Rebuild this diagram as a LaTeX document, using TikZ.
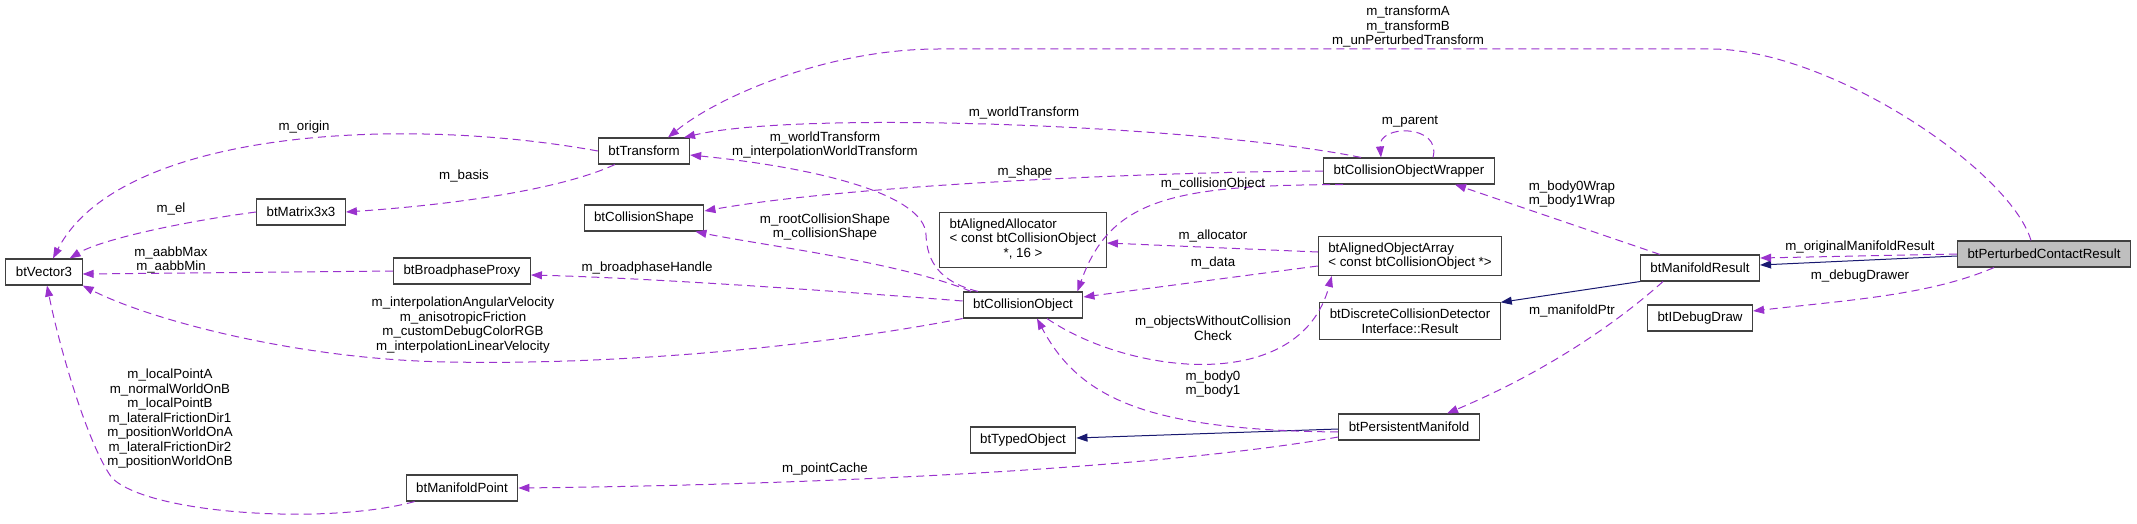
\documentclass[tikz,border=0pt]{standalone}
\usepackage{fontspec}
\setmainfont{Liberation Sans}
\usepackage{xcolor}
\usetikzlibrary{arrows.meta}

\definecolor{dmember}{HTML}{9A32CD}
\definecolor{dinherit}{HTML}{191970}

\begin{document}
\begin{tikzpicture}[
  x=1pt, y=-1pt,
  cls/.style={draw=black!75, line width=1.1pt, fill=white, inner xsep=10pt,
    inner ysep=6pt, minimum height=26pt, font=\fontsize{13.3}{14.5}\selectfont},
  lbl/.style={inner sep=0pt, align=center, font=\fontsize{13.3}{14.5}\selectfont},
  member/.style={draw=dmember, line width=1pt, dash pattern=on 8pt off 5pt,
    -{Triangle[length=11pt,width=8pt]}},
  inherit/.style={draw=dinherit, line width=1pt, -{Triangle[length=11pt,width=8pt]}}
]
  \useasboundingbox (0,0) rectangle (2137,524);

  % classes
  \node[cls] (vec) at (44,272) {btVector3};
  \node[cls] (trans) at (644,151) {btTransform};
  \node[cls] (mat) at (301,212) {btMatrix3x3};
  \node[cls] (shape) at (644,218) {btCollisionShape};
  \node[cls] (proxy) at (462,271) {btBroadphaseProxy};
  \node[cls] (mpoint) at (462,488) {btManifoldPoint};
  \node[cls] (colobj) at (1023,305) {btCollisionObject};
  \node[cls] (alloc) at (1023,240) {\begin{tabular}{@{}l@{}}btAlignedAllocator\\< const btCollisionObject\\\multicolumn{1}{@{}c@{}}{*, 16 >}\end{tabular}};
  \node[cls] (typed) at (1023,440) {btTypedObject};
  \node[cls] (wrapper) at (1409,171) {btCollisionObjectWrapper};
  \node[cls, align=left] (aoa) at (1410,256) {btAlignedObjectArray\\< const btCollisionObject *>};
  \node[cls, align=center] (dcdi) at (1410,321) {btDiscreteCollisionDetector\\Interface::Result};
  \node[cls] (pman) at (1409,427) {btPersistentManifold};
  \node[cls] (mres) at (1700,268) {btManifoldResult};
  \node[cls] (debug) at (1700,318) {btIDebugDraw};
  \node[cls, fill=black!25] (pcr) at (2044,254) {btPerturbedContactResult};

  % btPerturbedContactResult
  \draw[member] ([xshift=-13pt]pcr.north) .. controls (2010,170) and (1830,49) .. (1711,49)
    -- (938,49) .. controls (830,49) and (720,95) .. ([xshift=24pt]trans.north);
  \node[lbl] (lTrans) at (1408,27) {m\_transformA\\m\_transformB\\m\_unPerturbedTransform};
  \draw[inherit] ([yshift=-2pt]pcr.west) -- ([yshift=3pt]mres.east);
  \draw[member] (pcr.west) -- ([yshift=10pt]mres.east);
  \node[lbl] (lOrig) at (1860,247) {m\_originalManifoldResult};
  \draw[member] ([xshift=-50pt]pcr.south) .. controls (1930,295) and (1850,300) .. ([yshift=7pt]debug.east);
  \node[lbl] (lDebug) at (1860,276) {m\_debugDrawer};

  % btManifoldResult
  \draw[member] ([xshift=20pt]mres.north west) -- ([xshift=46pt]wrapper.south);
  \node[lbl] (lWrap) at (1572,194) {m\_body0Wrap\\m\_body1Wrap};
  \draw[inherit] (mres.south west) -- (dcdi.north east);
  \draw[member] ([xshift=-37pt]mres.south) .. controls (1620,320) and (1550,370) .. ([xshift=38pt]pman.north);
  \node[lbl] (lManPtr) at (1572,311) {m\_manifoldPtr};

  % btCollisionObjectWrapper
  \draw[member] ([xshift=-48pt]wrapper.north) .. controls (1200,125) and (800,110) .. ([xshift=40pt]trans.north);
  \node[lbl] (lWorld) at (1024,113) {m\_worldTransform};
  \draw[member] (wrapper.west) .. controls (1150,172) and (850,185) .. ([yshift=7pt]shape.east);
  \node[lbl] (lShape) at (1025,172) {m\_shape};
  \draw[member] ([xshift=-66pt]wrapper.south) .. controls (1170,185) and (1110,200) .. ([xshift=-6pt]colobj.north east);
  \node[lbl] (lColObj) at (1213,184) {m\_collisionObject};
  \draw[member] ([xshift=24pt]wrapper.north) .. controls (1442,124) and (1378,124) .. ([xshift=-28pt]wrapper.north);
  \node[lbl] (lParent) at (1410,122) {m\_parent};

  % btAlignedObjectArray
  \draw[member] ([yshift=4pt]aoa.west) -- ([yshift=-3pt]alloc.east);
  \node[lbl] (lAlloc) at (1213,236) {m\_allocator};
  \draw[member] ([yshift=-10pt]aoa.west) -- ([yshift=8pt]colobj.east);
  \node[lbl] (lData) at (1213,263) {m\_data};

  % btPersistentManifold
  \draw[inherit] ([yshift=-2pt]pman.west) -- ([yshift=2pt]typed.east);
  \draw[member] ([yshift=-10pt]pman.west) .. controls (1150,470) and (800,485) .. (mpoint.east);
  \node[lbl] (lCache) at (825,469) {m\_pointCache};
  \draw[member] ([yshift=-5pt]pman.west) .. controls (1150,430) and (1080,400) .. ([xshift=14pt]colobj.south);
  \node[lbl] (lBody) at (1213,384) {m\_body0\\m\_body1};

  % btCollisionObject
  \draw[member] ([xshift=-45pt]colobj.north) .. controls (940,282) and (927,262) .. (926,235)
    .. controls (925,195) and (820,168) .. ([yshift=-4pt]trans.east);
  \node[lbl] (lObjWorld) at (825,145) {m\_worldTransform\\m\_interpolationWorldTransform};
  \draw[member] ([xshift=-52pt]colobj.north) .. controls (900,262) and (760,245) .. ([xshift=-9pt]shape.south east);
  \node[lbl] (lRootShape) at (825,227) {m\_rootCollisionShape\\m\_collisionShape};
  \draw[member] ([yshift=4pt]colobj.west) .. controls (850,292) and (650,278) .. ([yshift=-4pt]proxy.east);
  \node[lbl] (lBroad) at (647,268) {m\_broadphaseHandle};
  \draw[member] (colobj.south west) .. controls (800,350) and (600,365) .. (450,362)
    .. controls (300,360) and (150,320) .. (vec.south east);
  \node[lbl] (lInterp) at (463,325) {m\_interpolationAngularVelocity\\m\_anisotropicFriction\\m\_customDebugColorRGB\\m\_interpolationLinearVelocity};
  \draw[member] ([xshift=24pt]colobj.south) .. controls (1130,375) and (1300,395) .. ([xshift=14pt]aoa.south west);
  \node[lbl] (lWithout) at (1213,328) {m\_objectsWithoutCollision\\Check};

  % btTransform, btMatrix3x3, btBroadphaseProxy, btManifoldPoint
  \draw[member] ([xshift=17pt]trans.south west) .. controls (560,190) and (450,205) .. (mat.east);
  \node[lbl] (lBasis) at (464,176) {m\_basis};
  \draw[member] (trans.west) .. controls (400,115) and (120,130) .. ([xshift=9pt]vec.north);
  \node[lbl] (lOrigin) at (304,127) {m\_origin};
  \draw[member] (mat.west) .. controls (180,222) and (100,240) .. ([xshift=-13pt]vec.north east);
  \node[lbl] (lEl) at (171,209) {m\_el};
  \draw[member] (proxy.west) -- ([yshift=-2pt]vec.east);
  \node[lbl] (lAabb) at (171,260) {m\_aabbMax\\m\_aabbMin};
  \draw[member] ([xshift=9pt]mpoint.south west) .. controls (330,525) and (150,515) .. (112,478)
    .. controls (88,445) and (60,350) .. ([xshift=3pt]vec.south);
  \node[lbl] (lPoint) at (170,419) {m\_localPointA\\m\_normalWorldOnB\\m\_localPointB\\m\_lateralFrictionDir1\\m\_positionWorldOnA\\m\_lateralFrictionDir2\\m\_positionWorldOnB};
\end{tikzpicture}
\end{document}
